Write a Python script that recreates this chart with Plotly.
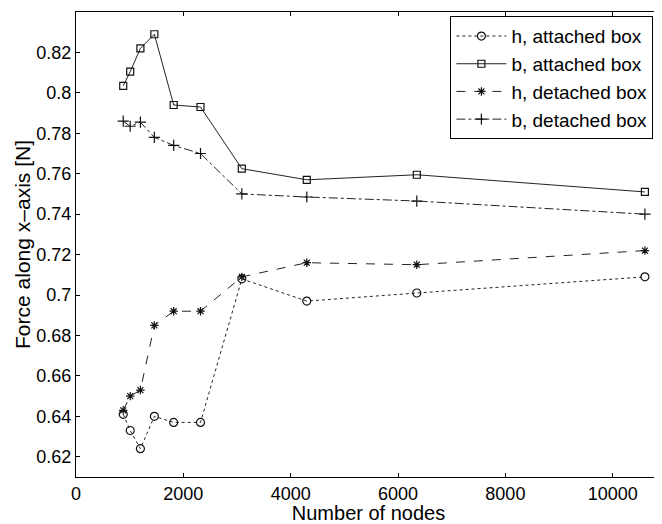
import plotly.graph_objects as go

nodes = [880, 1010, 1200, 1460, 1820, 2320, 3090, 4300, 6350, 10600]
h_attached = [0.641, 0.633, 0.624, 0.640, 0.637, 0.637, 0.708, 0.697, 0.701, 0.709]
b_attached = [0.8035, 0.8105, 0.822, 0.829, 0.794, 0.793, 0.7625, 0.757, 0.7595, 0.751]
h_detached = [0.643, 0.650, 0.653, 0.685, 0.692, 0.692, 0.709, 0.716, 0.715, 0.722]
b_detached = [0.786, 0.7835, 0.7855, 0.778, 0.774, 0.770, 0.750, 0.7485, 0.7465, 0.740]

names = ["h, attached box", "b, attached box", "h, detached box", "b, detached box"]
series = [h_attached, b_attached, h_detached, b_detached]
symbols = ["circle-open", "square-open", "asterisk-open", "cross-thin-open"]
dashes = ["dot", "solid", "dash", "dashdot"]
sizes = [8, 7, 7, 8]

fig = go.Figure()
for name, ys, sym, dash, sz in zip(names, series, symbols, dashes, sizes):
    fig.add_trace(go.Scatter(
        x=nodes, y=ys, name=name, mode="lines+markers",
        line=dict(color="#222", width=1, dash=dash),
        marker=dict(symbol=sym, size=sz, color="#111", line=dict(width=1.2, color="#111")),
    ))

fam = "Liberation Sans, Arial, Helvetica, sans-serif"
# the page body has an 8px margin, so the figure is drawn 8px smaller
fig.update_layout(
    width=654, height=516,
    margin=dict(l=68, r=1, t=4, b=47, autoexpand=False),
    paper_bgcolor="white", plot_bgcolor="white",
    font=dict(family=fam, size=18, color="black"),
    showlegend=True,
    legend=dict(x=0.64, xanchor="left", y=0.991, yanchor="top",
                bordercolor="black", borderwidth=1, bgcolor="white",
                font=dict(family=fam, size=19, color="black"),
                tracegroupgap=0, itemwidth=50),
    xaxis=dict(range=[0, 10900], tickvals=[0, 2000, 4000, 6000, 8000, 10000],
               ticktext=["0", "2000", "4000", "6000", "8000", "10000"],
               ticks="inside", ticklen=4, tickcolor="black",
               showline=True, linecolor="black", linewidth=1, mirror="ticks",
               showgrid=False, zeroline=False, automargin=False,
               tickfont=dict(size=18),
               title=dict(text="Number of nodes", standoff=0, font=dict(size=20))),
    yaxis=dict(range=[0.61, 0.84],
               tickvals=[0.62, 0.64, 0.66, 0.68, 0.7, 0.72, 0.74, 0.76, 0.78, 0.8, 0.82],
               ticktext=["0.62", "0.64", "0.66", "0.68", "0.7", "0.72", "0.74", "0.76", "0.78", "0.8", "0.82"],
               ticks="inside", ticklen=4, tickcolor="black",
               showline=True, linecolor="black", linewidth=1, mirror="ticks",
               showgrid=False, zeroline=False, automargin=False,
               tickfont=dict(size=18),
               title=dict(text="Force along x\u2013axis [N]", standoff=0, font=dict(size=21))),
)
fig.write_html("out.html")
